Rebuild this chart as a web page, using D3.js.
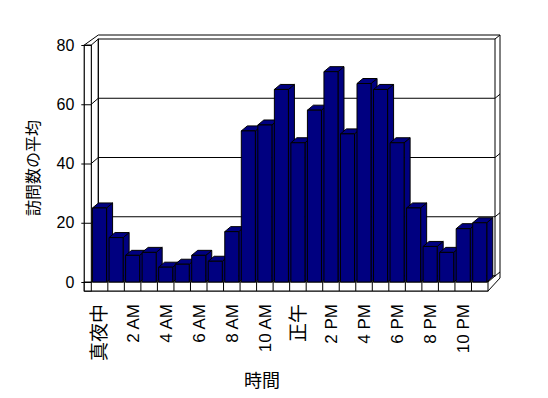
<!DOCTYPE html>
<html>
<head>
<meta charset="utf-8">
<script src="https://cdn.jsdelivr.net/npm/d3@7"></script>
<style>
    body { margin: 0; background: #fff; }
    svg text { font-family: "Liberation Sans", "Noto Sans CJK JP", sans-serif; fill: #000; }
</style>
</head>
<body>
<div class="graphic"></div>
<script>
// 24 hourly categories, only every other label shown
var hours = ["真夜中", "1 AM", "2 AM", "3 AM", "4 AM", "5 AM", "6 AM", "7 AM", "8 AM", "9 AM", "10 AM", "11 AM",
    "正午", "1 PM", "2 PM", "3 PM", "4 PM", "5 PM", "6 PM", "7 PM", "8 PM", "9 PM", "10 PM", "11 PM"];
var visits = [25, 15, 9, 10, 5, 6, 9, 7, 17, 51, 53, 65, 47, 58, 71, 50, 67, 65, 47, 25, 12, 10, 18, 20];
var yTicks = [0, 20, 40, 60, 80];
var yTitle = "訪問数の平均";
var xTitle = "時間";

var render = function () {
    var width = 548, height = 398;
    var svg = d3.select(".graphic").append("svg")
        .attr("width", width)
        .attr("height", height);

    // front plane of the plot box and the depth offsets
    var plot = { left: 91.3, right: 488, bottom: 282, top: 45 };
    var depth = { dx: 7, dy: -6 };      // front plane -> back wall
    var wall = { dx: 5, dy: -4 };       // back wall thickness
    var barDepth = { dx: 6, dy: -5 };
    var floorH = 9, leftWallW = 7;

    var x = d3.scaleBand()
        .domain(hours)
        .range([plot.left, plot.right])
        .paddingInner(0.15)
        .paddingOuter(0.075);

    var y = d3.scaleLinear()
        .domain([0, 80])
        .range([plot.bottom, plot.top]);

    var line = d3.line();
    var poly = function (pts) { return line(pts) + "Z"; };

    var walls = svg.append("g")
        .attr("fill", "#fff")
        .attr("stroke", "#000")
        .attr("stroke-width", 1);

    var bL = plot.left + depth.dx, bR = plot.right + depth.dx;
    var bTop = plot.top + depth.dy, bBot = plot.bottom + depth.dy;

    // back wall: top edge and right edge of the slab
    walls.append("path").attr("d", poly([
        [plot.left - leftWallW, plot.top], [bL + wall.dx - leftWallW + 2, bTop + wall.dy],
        [bR + wall.dx, bTop + wall.dy], [bR + wall.dx, bBot + wall.dy + 6],
        [plot.right, plot.bottom + floorH], [plot.left - leftWallW, plot.bottom + floorH]
    ]));
    // inner face of back wall
    walls.append("rect")
        .attr("x", bL).attr("y", bTop)
        .attr("width", bR - bL).attr("height", bBot - bTop);
    walls.append("path").attr("d", line([[bR, bTop], [bR + wall.dx, bTop + wall.dy]]));

    // gridlines on the back wall and the left wall
    walls.selectAll(".grid")
        .data(yTicks.slice(1, -1))
        .join("path")
        .attr("class", "grid")
        .attr("fill", "none")
        .attr("d", function (d) {
            return line([[plot.left, y(d)], [bL, y(d) + depth.dy], [bR, y(d) + depth.dy], [bR + wall.dx, y(d) + depth.dy + wall.dy]]);
        });

    // left wall: inner face and front face
    walls.append("path").attr("d", poly([
        [plot.left, plot.top], [bL, bTop], [bL, bBot], [plot.left, plot.bottom]
    ])).attr("fill", "none");
    walls.append("rect")
        .attr("x", plot.left - leftWallW).attr("y", plot.top)
        .attr("width", leftWallW).attr("height", plot.bottom + floorH - plot.top);

    // floor: top face and front face with cell dividers
    walls.append("path").attr("d", poly([
        [plot.left, plot.bottom], [bL, bBot], [bR, bBot], [plot.right, plot.bottom]
    ]));
    walls.append("path").attr("d", line([[bR, bBot], [bR + wall.dx, bBot + wall.dy]]));
    walls.append("rect")
        .attr("x", plot.left - leftWallW).attr("y", plot.bottom)
        .attr("width", plot.right - plot.left + leftWallW).attr("height", floorH);
    walls.selectAll(".cell")
        .data(hours)
        .join("line")
        .attr("class", "cell")
        .attr("x1", function (d) { return x(d) - x.step() * x.paddingInner() / 2; })
        .attr("x2", function (d) { return x(d) - x.step() * x.paddingInner() / 2; })
        .attr("y1", plot.bottom)
        .attr("y2", plot.bottom + floorH);

    // bars, drawn left to right so each covers the side of the previous one
    var bars = svg.append("g")
        .attr("fill", "#000080")
        .attr("stroke", "#000")
        .attr("stroke-width", 1)
        .attr("stroke-linejoin", "round");

    var bar = bars.selectAll("g")
        .data(visits)
        .join("g");

    bar.append("path").attr("d", function (d, i) {
        var x0 = x(hours[i]), x1 = x0 + x.bandwidth(), yt = y(d);
        return poly([[x1, yt], [x1 + barDepth.dx, yt + barDepth.dy], [x1 + barDepth.dx, plot.bottom + barDepth.dy], [x1, plot.bottom]]);
    });
    bar.append("path").attr("d", function (d, i) {
        var x0 = x(hours[i]), x1 = x0 + x.bandwidth(), yt = y(d);
        return poly([[x0, yt], [x0 + barDepth.dx, yt + barDepth.dy], [x1 + barDepth.dx, yt + barDepth.dy], [x1, yt]]);
    });
    bar.append("rect")
        .attr("x", function (d, i) { return x(hours[i]); })
        .attr("y", function (d) { return y(d); })
        .attr("width", x.bandwidth())
        .attr("height", function (d) { return plot.bottom - y(d); });

    // y axis
    var yAxis = svg.append("g")
        .attr("transform", "translate(" + plot.left + ",0)")
        .call(d3.axisLeft(y).tickValues(yTicks).tickSize(10).tickPadding(7))
        .call(function (g) { g.select(".domain").remove(); });
    yAxis.selectAll("text").attr("font-size", 16).attr("font-family", null);
    yAxis.selectAll("line").attr("stroke", "#000");

    // x labels (Japanese labels render a little larger in the original)
    svg.append("g")
        .selectAll("text")
        .data(hours.filter(function (d, i) { return i % 2 === 0; }))
        .join("text")
        .attr("transform", function (d) {
            return "translate(" + (x(d) + x.bandwidth() / 2) + "," + (plot.bottom + floorH + 13) + ") rotate(-90)";
        })
        .attr("dy", "0.35em")
        .attr("text-anchor", "end")
        .attr("font-size", function (d) { return /^[\x00-\x7f]+$/.test(d) ? 17 : 19; })
        .text(function (d) { return d; });

    svg.append("text")
        .attr("transform", "translate(33,168) rotate(-90)")
        .attr("text-anchor", "middle")
        .attr("dy", "0.35em")
        .attr("font-size", 16)
        .text(yTitle);

    svg.append("text")
        .attr("x", 262)
        .attr("y", 381)
        .attr("text-anchor", "middle")
        .attr("dy", "0.35em")
        .attr("font-size", 18)
        .text(xTitle);
};

render();
</script>
</body>
</html>
